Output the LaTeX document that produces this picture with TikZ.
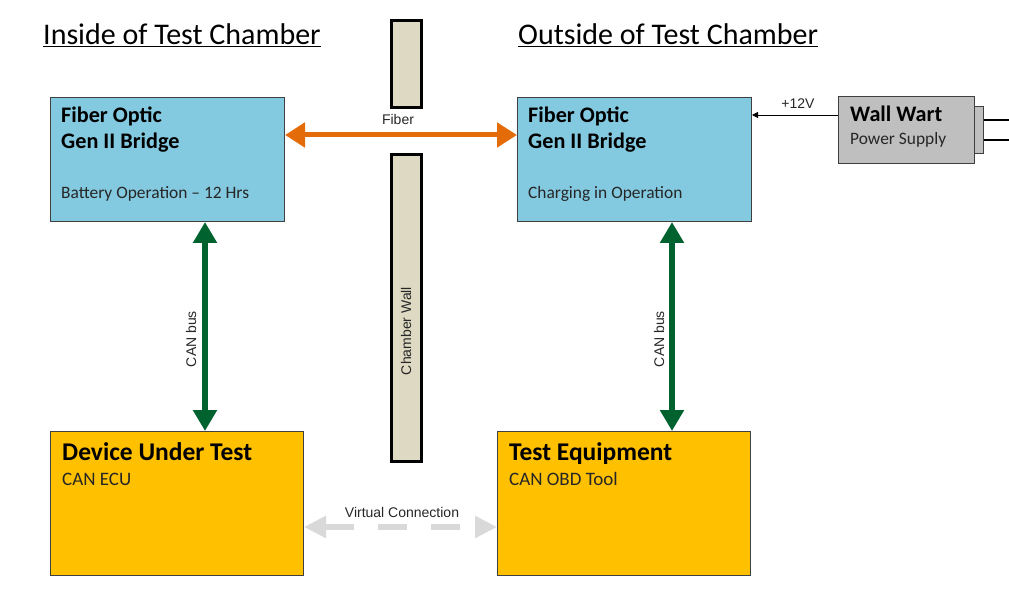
\documentclass[tikz,border=0pt]{standalone}
\usepackage{fontspec}
\setmainfont{Carlito}
\newfontfamily\arialf{Liberation Sans}
\usetikzlibrary{arrows.meta}
\definecolor{boxblue}{HTML}{83C9E0}
\definecolor{boxyellow}{HTML}{FFC000}
\definecolor{walltan}{HTML}{DDD9C3}
\definecolor{fiberorange}{HTML}{E36C09}
\definecolor{cangreen}{HTML}{00622F}
\definecolor{wartgray}{HTML}{BFBFBF}
\definecolor{virtgray}{HTML}{D9D9D9}
\definecolor{edgegray}{HTML}{404040}
\definecolor{txtgray}{HTML}{262626}
\tikzset{
  bluebox/.style={draw=edgegray, line width=1pt, fill=boxblue, anchor=north west, inner sep=0pt},
  yellowbox/.style={draw=edgegray, line width=1pt, fill=boxyellow, anchor=north west, inner sep=0pt},
  graybox/.style={draw=edgegray, line width=1pt, fill=wartgray, anchor=north west, inner sep=0pt},
  wallbox/.style={draw=black, line width=2.8pt, fill=walltan, anchor=north west, inner sep=0pt},
  title/.style={font=\fontsize{30}{33}\selectfont, anchor=base west, inner sep=0pt},
  head/.style={font=\fontsize{22.2}{26}\selectfont\bfseries, anchor=base west, inner sep=0pt, text=black},
  bighead/.style={font=\fontsize{25.5}{29}\selectfont\bfseries, anchor=base west, inner sep=0pt, text=black},
  sub/.style={font=\fontsize{17.4}{20}\selectfont, anchor=base west, inner sep=0pt, text=txtgray},
  subbig/.style={font=\fontsize{19}{22}\selectfont, anchor=base west, inner sep=0pt, text=txtgray},
  small/.style={font=\arialf\fontsize{14}{16}\selectfont, inner sep=0pt, text=txtgray},
  fiberarrow/.style={draw=fiberorange, line width=5pt, {Triangle[length=20pt,width=24pt]}-{Triangle[length=20pt,width=24pt]}},
  canarrow/.style={draw=cangreen, line width=6pt, {Triangle[length=21pt,width=23pt]}-{Triangle[length=21pt,width=23pt]}},
  virtarrow/.style={draw=virtgray, line width=6pt, dash pattern=on 29pt off 24pt, {Triangle[length=22pt,width=21pt]}-{Triangle[length=22pt,width=21pt]}},
  pwrarrow/.style={draw=black, line width=0.8pt, -{Triangle[length=6pt,width=6pt]}},
}
\begin{document}
\begin{tikzpicture}[x=1pt,y=-1pt]
\useasboundingbox (0,0) rectangle (1009,609);
% titles
\node[title] (t1) at (43,45) {\underline{Inside of Test Chamber}};
\node[title] (t2) at (518,45) {\underline{Outside of Test Chamber}};
% chamber wall
\node[wallbox, minimum width=30pt, minimum height=87pt] (w1) at (390,19) {};
\node[wallbox, minimum width=30pt, minimum height=307pt] (w2) at (390,153) {};
\node[small, rotate=90] (wl) at (406,331) {Chamber Wall};
% top boxes
\node[bluebox, minimum width=234pt, minimum height=124pt] (lb) at (50,97) {};
\node[bluebox, minimum width=234pt, minimum height=124pt] (rb) at (517,97) {};
\node[head] (lb1) at (61,123) {Fiber Optic};
\node[head] (lb2) at (61,149) {Gen II Bridge};
\node[sub] (lb3) at (61,199) {Battery Operation -- 12 Hrs};
\node[head] (rb1) at (528,123) {Fiber Optic};
\node[head] (rb2) at (528,149) {Gen II Bridge};
\node[sub] (rb3) at (528,199) {Charging in Operation};
% wall wart
\node[graybox, minimum width=9pt, minimum height=47pt] (plug) at (974,106) {};
\node[graybox, minimum width=136pt, minimum height=67pt] (ww) at (838,96) {};
\coordinate (p1) at (1009,120);
\coordinate (p2) at (1009,140);
\draw[line width=1.2pt] (plug.east |- p1) -- (p1);
\draw[line width=1.2pt] (plug.east |- p2) -- (p2);
\node[head] (ww1) at (850,122) {Wall Wart};
\node[sub] (ww2) at (850,145) {Power Supply};
\coordinate (py) at (0,115);
\draw[pwrarrow] (ww.west |- py) -- (rb.east |- py);
\node[small, anchor=base] (v12) at (798,109) {+12V};
% bottom boxes
\node[yellowbox, minimum width=253pt, minimum height=144pt] (dut) at (50,431) {};
\node[yellowbox, minimum width=253pt, minimum height=144pt] (te) at (497,431) {};
\node[bighead] (dut1) at (62,460) {Device Under Test};
\node[subbig] (dut2) at (62,485) {CAN ECU};
\node[bighead] (te1) at (509,460) {Test Equipment};
\node[subbig] (te2) at (509,485) {CAN OBD Tool};
% fiber
\coordinate (fy) at (0,135);
\draw[fiberarrow] (lb.east |- fy) -- (rb.west |- fy);
\node[small, anchor=base] (fl) at (398,125) {Fiber};
% can bus
\coordinate (cx1) at (205,0);
\coordinate (cx2) at (672,0);
\draw[canarrow] (lb.south -| cx1) -- (dut.north -| cx1);
\draw[canarrow] (rb.south -| cx2) -- (te.north -| cx2);
\node[small, rotate=90] (cl1) at (191,339) {CAN bus};
\node[small, rotate=90] (cl2) at (659,339) {CAN bus};
% virtual
\coordinate (vy) at (0,527);
\draw[virtarrow] (dut.east |- vy) -- (te.west |- vy);
\node[small, anchor=base] (vl) at (402,517) {Virtual Connection};
\end{tikzpicture}
\end{document}
